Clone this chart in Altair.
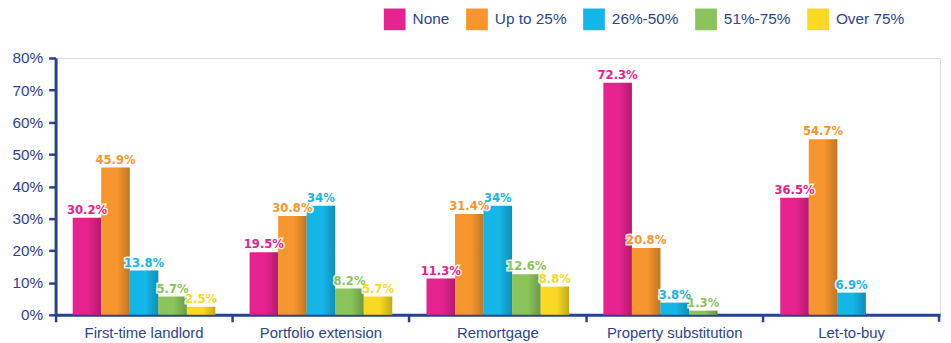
import altair as alt
import pandas as pd

categories = ["First-time landlord", "Portfolio extension", "Remortgage",
              "Property substitution", "Let-to-buy"]
series = ["None", "Up to 25%", "26%-50%", "51%-75%", "Over 75%"]
colors = ["#E6228E", "#F7962E", "#14B6E8", "#8BC45A", "#F9D923"]

none_vals = [30.2, 19.5, 11.3, 72.3, 36.5]
upto25_vals = [45.9, 30.8, 31.4, 20.8, 54.7]
p26_50_vals = [13.8, 34, 34, 3.8, 6.9]
p51_75_vals = [5.7, 8.2, 12.6, 1.3, None]
over75_vals = [2.5, 5.7, 8.8, None, None]

rows = []
for s, vals in zip(series, [none_vals, upto25_vals, p26_50_vals, p51_75_vals, over75_vals]):
    for c, v in zip(categories, vals):
        if v is None:
            continue
        rows.append({"category": c, "series": s, "value": v / 100.0,
                     "label": f"{v:g}%"})
df = pd.DataFrame(rows)

W, H = 892, 259
axis_col = "#26418F"
label_col = "#2E4593"

x = alt.X("category:N", sort=categories, title=None,
          scale=alt.Scale(paddingInner=0, paddingOuter=0),
          axis=alt.Axis(labelAngle=0, labelFont="Liberation Sans", labelFontSize=15,
                        labelColor=label_col, domainColor=axis_col, domainWidth=3,
                        tickColor=axis_col, tickWidth=2.5, tickSize=7,
                        bandPosition=0, labelPadding=4))
xo = alt.XOffset("series:N", sort=series,
                 scale=alt.Scale(domain=series, paddingInner=0, paddingOuter=0.6))
y = alt.Y("value:Q", title=None,
          scale=alt.Scale(domain=[0, 0.8]),
          axis=alt.Axis(format=".0%", values=[i / 10 for i in range(9)], grid=False,
                        labelFont="Liberation Sans", labelFontSize=15.5,
                        labelColor=label_col, domainColor=axis_col, domainWidth=3,
                        tickColor=axis_col, tickWidth=2.5, tickSize=7, labelPadding=6))
color = alt.Color("series:N", sort=series,
                  scale=alt.Scale(domain=series, range=colors),
                  legend=alt.Legend(title=None, orient="none", direction="horizontal",
                                    legendX=331, legendY=-50,
                                    symbolType="square", symbolSize=480,
                                    symbolStrokeWidth=0, symbolOpacity=1,
                                    labelFont="Liberation Sans", labelFontSize=15.5,
                                    labelColor=label_col, labelOffset=7,
                                    columnPadding=16))
text_color = alt.Color("series:N", sort=series,
                       scale=alt.Scale(domain=series, range=colors), legend=None)

shade = alt.Gradient(
    gradient="linear", x1=0, x2=1, y1=0, y2=0,
    stops=[alt.GradientStop(offset=0, color="rgba(0,0,0,0)"),
           alt.GradientStop(offset=0.55, color="rgba(0,0,0,0)"),
           alt.GradientStop(offset=1, color="rgba(0,0,0,0.22)")])

base = alt.Chart(df)
bars = base.mark_bar(opacity=1).encode(x=x, xOffset=xo, y=y, color=color)
shading = base.mark_bar(color=shade).encode(x=x, xOffset=xo, y=y)
halo = base.mark_text(baseline="bottom", dy=-1, font="DejaVu Sans Condensed",
                      fontWeight="bold", fontSize=13, stroke="white",
                      strokeWidth=3, strokeOpacity=0.85, fill="white").encode(
    x=x, xOffset=xo, y=y, text="label:N")
text = base.mark_text(baseline="bottom", dy=-1, font="DejaVu Sans Condensed",
                      fontWeight="bold", fontSize=13).encode(
    x=x, xOffset=xo, y=y, text="label:N", color=text_color)
end_tick = alt.Chart(pd.DataFrame({"a": [0]})).mark_rule(
    color=axis_col, strokeWidth=2.5).encode(
    x=alt.value(W - 1), y=alt.value(H), y2=alt.value(H + 7))

chart = alt.layer(bars, shading, halo, text, end_tick).properties(
    width=W, height=H,
    autosize=alt.AutoSizeParams(type="none"),
    padding={"left": 48, "top": 49, "right": 3, "bottom": 27},
).configure_view(stroke=None).configure(background="white")

chart.save("out.html", embed_options={"renderer": "svg", "actions": False})
